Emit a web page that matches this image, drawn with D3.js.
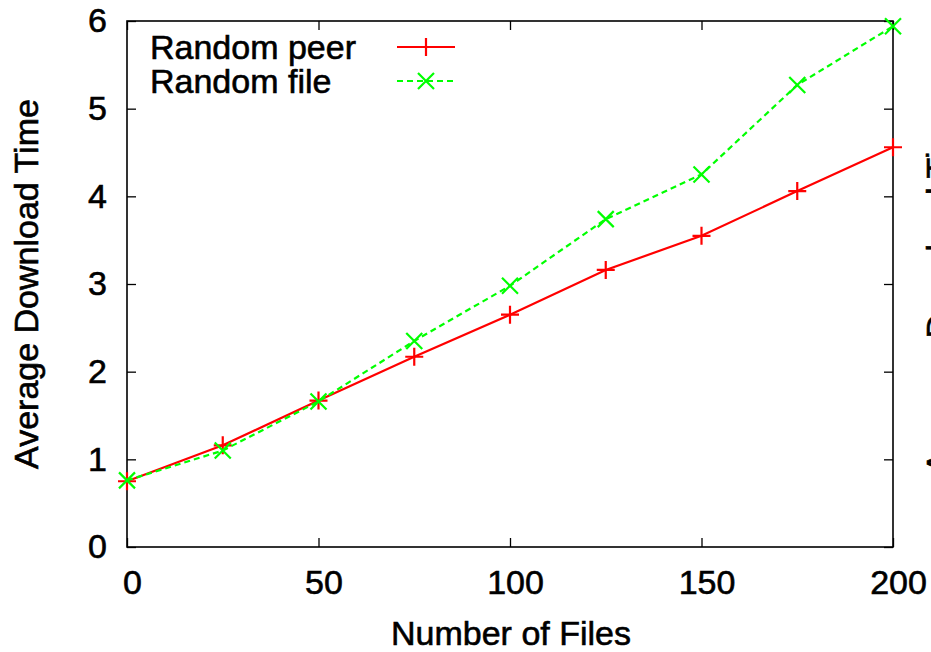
<!DOCTYPE html>
<html><head><meta charset="utf-8">
<script src="https://cdn.jsdelivr.net/npm/d3@7"></script>
<style>body{margin:0;background:#fff}svg{display:block}text{font-family:"Liberation Sans",Arial,sans-serif;fill:#000;stroke:#000;stroke-width:0.6px}</style>
</head><body>
<script>
const files = [0, 25, 50, 75, 100, 125, 150, 175, 200];
const randomPeer = [0.75, 1.16, 1.67, 2.17, 2.65, 3.16, 3.55, 4.06, 4.56];
const randomFile = [0.76, 1.10, 1.66, 2.35, 2.98, 3.74, 4.25, 5.27, 5.94];
const xTicks = [0, 50, 100, 150, 200];
const yTicks = [0, 1, 2, 3, 4, 5, 6];
const seriesNames = ["Random peer", "Random file"];

const W = 931, H = 652;
const m = {left: 127, right: 893, top: 21, bottom: 547};
const svg = d3.select("body").append("svg").attr("width", W).attr("height", H);
const x = d3.scaleLinear().domain([0, 200]).range([m.left, m.right]);
const y = d3.scaleLinear().domain([0, 6]).range([m.bottom, m.top]);
const fs = 34;

// ticks (inward, mirrored)
const tl = 9;
const axB = svg.append("g").attr("transform", `translate(0,${m.bottom})`)
  .call(d3.axisBottom(x).tickValues(xTicks).tickSize(-tl).tickPadding(tl + 14).tickFormat(d3.format("d")));
const axT = svg.append("g").attr("transform", `translate(0,${m.top})`)
  .call(d3.axisTop(x).tickValues(xTicks).tickSize(-tl).tickFormat(""));
const axL = svg.append("g").attr("transform", `translate(${m.left},0)`)
  .call(d3.axisLeft(y).tickValues(yTicks).tickSize(-tl).tickPadding(tl + 11).tickFormat(d3.format("d")));
const axR = svg.append("g").attr("transform", `translate(${m.right},0)`)
  .call(d3.axisRight(y).tickValues(yTicks).tickSize(-tl).tickFormat(""));
[axB, axT, axL, axR].forEach(a => {
  a.select(".domain").remove();
  a.selectAll("line").attr("stroke", "#000").attr("stroke-width", 1.3);
  a.selectAll("text").style("font-size", fs + "px").attr("fill", "#000").style("font-family", '"Liberation Sans",Arial,sans-serif');
});
axB.selectAll("text").attr("dy", "0.71em").attr("dx", 5);

svg.append("rect").attr("x", m.left).attr("y", m.top).attr("width", m.right - m.left).attr("height", m.bottom - m.top)
  .attr("fill", "none").attr("stroke", "#000").attr("stroke-width", 1.6);

// labels
svg.append("text").attr("x", (m.left + m.right) / 2 + 1).attr("y", 645).attr("text-anchor", "middle")
  .style("font-size", "34px").text("Number of Files");
svg.append("text").attr("transform", `translate(38,284) rotate(-90)`).attr("text-anchor", "middle")
  .style("font-size", "34px").text("Average Download Time");
// clipped neighbour label at right edge
svg.append("text").attr("transform", `translate(950,289) rotate(-90)`).attr("text-anchor", "middle")
  .style("font-size", "34px").text("Average Download Time");

const colors = ["#ff0000", "#00ff00"];
const data = [randomPeer, randomFile];
const line = d3.line().x((d, i) => x(files[i])).y(d => y(d));

function plus(g, cx, cy, c) {
  const s = 9;
  g.append("path").attr("d", `M${cx - s},${cy}H${cx + s}M${cx},${cy - s}V${cy + s}`).attr("stroke", c).attr("stroke-width", 2.2).attr("fill", "none");
}
function cross(g, cx, cy, c) {
  const s = 8;
  g.append("path").attr("d", `M${cx - s},${cy - s}L${cx + s},${cy + s}M${cx - s},${cy + s}L${cx + s},${cy - s}`).attr("stroke", c).attr("stroke-width", 2.2).attr("fill", "none");
}
const markers = [plus, cross];
const dashes = [null, "6,4"];

data.forEach((ser, k) => {
  const g = svg.append("g");
  g.append("path").datum(ser).attr("d", line).attr("fill", "none").attr("stroke", colors[k])
    .attr("stroke-width", 2.2).attr("stroke-dasharray", dashes[k]);
  ser.forEach((v, i) => markers[k](g, x(files[i]), y(v), colors[k]));
});

// legend
seriesNames.forEach((n, k) => {
  const ly = 47 + k * 34;
  svg.append("text").attr("x", 150).attr("y", ly + 12).style("font-size", fs + "px").text(n);
  const g = svg.append("g");
  g.append("line").attr("x1", 397).attr("x2", 455).attr("y1", ly).attr("y2", ly)
    .attr("stroke", colors[k]).attr("stroke-width", 2.2).attr("stroke-dasharray", dashes[k]);
  markers[k](g, 426, ly, colors[k]);
});
</script>
</body></html>
